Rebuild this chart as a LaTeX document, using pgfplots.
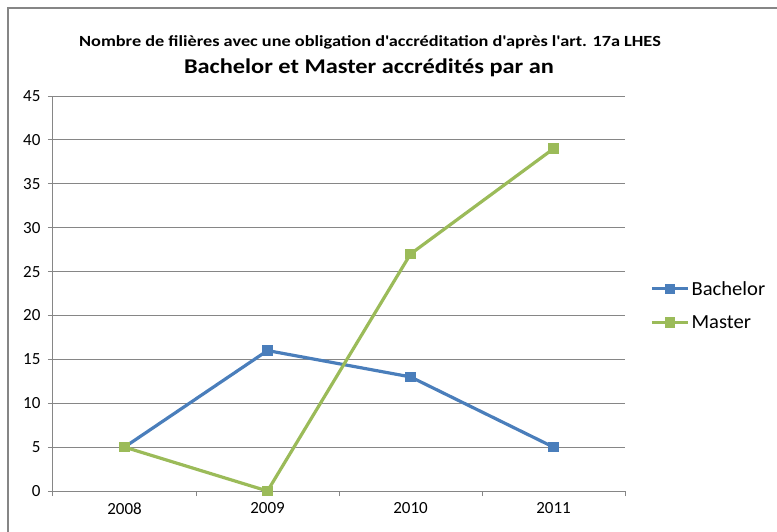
\documentclass[border=0pt]{standalone}
\usepackage{pgfplots}
\pgfplotsset{compat=1.18}
\usepackage{fontspec}
\setmainfont{Carlito}[Ligatures=TeXOff]
\definecolor{bach}{HTML}{4A7EBB}
\definecolor{mast}{HTML}{9BBB59}
\definecolor{gridc}{HTML}{868686}
\begin{document}
\begin{tikzpicture}
\path[use as bounding box] (0pt,0pt) rectangle (777pt,-531pt);
\draw[gridc, line width=1.2pt] (8pt,-560pt) -- (8pt,-8pt) -- (800pt,-8pt);
\node[font=\bfseries\fontsize{15.5}{18}\selectfont] at (370pt,-42pt) {\scalebox{1.18}[1]{Nombre de filières avec une obligation d'accréditation d'après l'art. 17a LHES}};
\node[font=\bfseries\fontsize{21}{24}\selectfont] at (369pt,-68pt) {\scalebox{1.16}[1]{Bachelor et Master accrédités par an}};
\begin{axis}[
  at={(53pt,-491pt)}, anchor=south west,
  scale only axis, width=572pt, height=395pt,
  xmin=-0.5, xmax=3.5, ymin=0, ymax=45,
  ytick={0,5,...,45},
  xtick={-0.5,0.5,1.5,2.5,3.5},
  xticklabels={},
  extra x ticks={0,1,2,3},
  extra x tick labels={2008,2009,2010,2011},
  extra x tick style={major tick length=0pt, xticklabel style={yshift=-8pt}},
  axis lines*=left,
  axis line style={-, gridc, line width=1pt},
  tick align=outside, major tick length=5pt,
  tick style={gridc, line width=1pt},
  ymajorgrids, grid style={gridc, line width=1pt},
  ticklabel style={font=\fontsize{17}{20}\selectfont},
  yticklabel style={xshift=-4pt},
  /pgf/number format/assume math mode=true,
  legend style={at={(1.044,0.4696)}, anchor=west, draw=none, fill=none, inner sep=0pt,
    font=\fontsize{20}{23}\selectfont, row sep=15pt, cells={anchor=west}},
  legend image code/.code={\draw[mark repeat=2,mark phase=2] plot coordinates {(0pt,0pt)(18pt,0pt)(36pt,0pt)};},
  legend cell align=left,
]
\addplot[bach, line width=3.2pt, mark=square*, mark size=4.8pt, mark options={line width=0pt}]
  coordinates {(0,5) (1,16) (2,13) (3,5)};
\addlegendentry{\scalebox{1.03}[1]{Bachelor}}
\addplot[mast, line width=3.2pt, mark=square*, mark size=4.8pt, mark options={line width=0pt}]
  coordinates {(0,5) (1,0) (2,27) (3,39)};
\addlegendentry{\scalebox{1.03}[1]{Master}}
\end{axis}
\end{tikzpicture}
\end{document}
